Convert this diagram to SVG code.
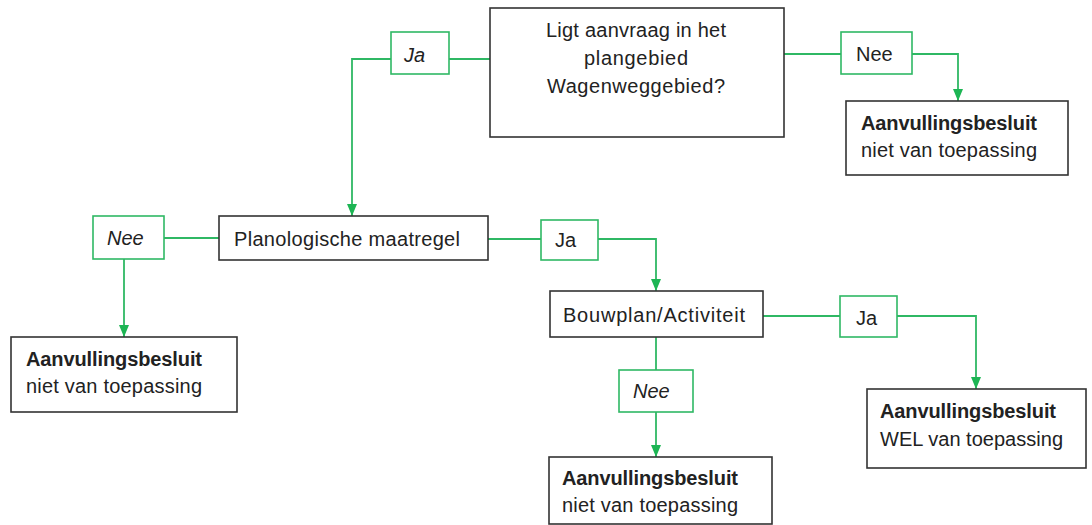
<svg xmlns="http://www.w3.org/2000/svg" width="1092" height="525" viewBox="0 0 1092 525">
<defs>
<style>
.box{fill:#fff;stroke:#333;stroke-width:1.6}
.lbl{fill:#fff;stroke:#2fb864;stroke-width:1.6}
.con{fill:none;stroke:#2fb864;stroke-width:1.8}
text{font-family:"Liberation Sans",Arial,sans-serif;font-size:20px;fill:#222}
.b{font-weight:bold}
.i{font-style:italic}
.c{text-anchor:middle}
</style>
<marker id="arr" viewBox="0 0 12 10" refX="12" refY="5" markerWidth="12" markerHeight="10" markerUnits="userSpaceOnUse" orient="auto">
<path d="M0,0 L12,5 L0,10 z" fill="#1db554"/>
</marker>
</defs>
<rect width="1092" height="525" fill="#fff"/>
<g id="connectors">
<path class="con" d="M490,59 H449"/>
<path class="con" d="M391,59 H352 V216" marker-end="url(#arr)"/>
<path class="con" d="M784,54 H841"/>
<path class="con" d="M912,54 H958 V101" marker-end="url(#arr)"/>
<path class="con" d="M219,238 H164"/>
<path class="con" d="M124,259 V337" marker-end="url(#arr)"/>
<path class="con" d="M488,239 H541"/>
<path class="con" d="M598,239 H656 V291" marker-end="url(#arr)"/>
<path class="con" d="M763,316 H840"/>
<path class="con" d="M897,316 H976 V389" marker-end="url(#arr)"/>
<path class="con" d="M656,337 V370"/>
<path class="con" d="M656,412 V457" marker-end="url(#arr)"/>
</g>
<g id="q-plangebied">
<rect class="box" x="490" y="8" width="294" height="129"/>
<text class="c" x="636" y="37" textLength="180">Ligt aanvraag in het</text>
<text class="c" x="636" y="65" textLength="104">plangebied</text>
<text class="c" x="636" y="93" textLength="178">Wagenweggebied?</text>
</g>
<g id="lbl-ja-1">
<rect class="lbl" x="391" y="32" width="58" height="42"/>
<text class="i" x="404" y="62">Ja</text>
</g>
<g id="lbl-nee-1">
<rect class="lbl" x="841" y="32" width="71" height="42"/>
<text x="856" y="61">Nee</text>
</g>
<g id="res-1">
<rect class="box" x="846" y="101" width="222" height="74"/>
<text class="b" x="861" y="130" textLength="176">Aanvullingsbesluit</text>
<text x="861" y="157" textLength="176">niet van toepassing</text>
</g>
<g id="q-planologisch">
<rect class="box" x="219" y="216" width="269" height="44"/>
<text x="234" y="246" textLength="226">Planologische maatregel</text>
</g>
<g id="lbl-nee-2">
<rect class="lbl" x="93" y="216" width="71" height="43"/>
<text class="i" x="107" y="245">Nee</text>
</g>
<g id="res-2">
<rect class="box" x="11" y="337" width="226" height="75"/>
<text class="b" x="26" y="366" textLength="176">Aanvullingsbesluit</text>
<text x="26" y="393" textLength="176">niet van toepassing</text>
</g>
<g id="lbl-ja-2">
<rect class="lbl" x="541" y="220" width="57" height="40"/>
<text x="555" y="247">Ja</text>
</g>
<g id="q-bouwplan">
<rect class="box" x="550" y="291" width="213" height="46"/>
<text x="563" y="322" textLength="182">Bouwplan/Activiteit</text>
</g>
<g id="lbl-ja-3">
<rect class="lbl" x="840" y="296" width="57" height="41"/>
<text x="856" y="325">Ja</text>
</g>
<g id="lbl-nee-3">
<rect class="lbl" x="619" y="370" width="74" height="42"/>
<text class="i" x="633" y="398">Nee</text>
</g>
<g id="res-3">
<rect class="box" x="867" y="389" width="219" height="79"/>
<text class="b" x="880" y="418" textLength="176">Aanvullingsbesluit</text>
<text x="880" y="446" textLength="183">WEL van toepassing</text>
</g>
<g id="res-4">
<rect class="box" x="549" y="457" width="223" height="67"/>
<text class="b" x="562" y="485" textLength="176">Aanvullingsbesluit</text>
<text x="562" y="512" textLength="176">niet van toepassing</text>
</g>
</svg>
